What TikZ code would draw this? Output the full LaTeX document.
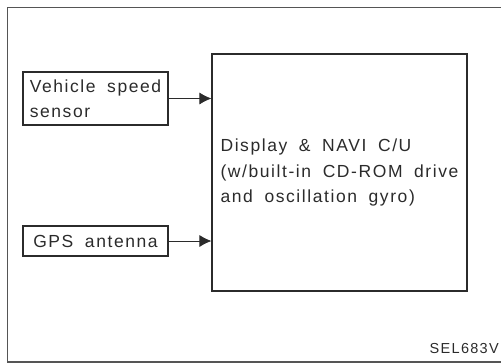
\documentclass[tikz,border=0pt]{standalone}
\usepackage{fontspec}
\usetikzlibrary{positioning, arrows.meta}
\newfontfamily\navFont{Liberation Sans}[LetterSpace=9, WordSpace=1.8]
\definecolor{navInk}{HTML}{2B2B2B}
\definecolor{navFrame}{HTML}{555555}
\tikzset{
    navBoxBase/.style={
        rectangle,
        draw=navInk,
        line width=1.1pt,
        inner sep=0pt,
        font=\navFont\fontsize{17.5}{25.5}\selectfont,
        text=navInk
    },
    navArrow/.style={-{Latex[length=12pt, width=12pt]}, line width=0.8pt, draw=navInk},
    navLabel/.style={font=\navFont\fontsize{14.5}{16}\selectfont, text=navInk, inner sep=0pt}
}

\begin{document}
\begin{tikzpicture}[x=1pt, y=-1pt]
    \useasboundingbox (0,0) rectangle (501,364);
    % outer frame (open on the right)
    \draw[navFrame, line width=1.6pt] (501,7.5) -- (7.5,7.5) -- (7.5,362) -- (501,362);
    % boxes
    \node[navBoxBase, minimum width=255pt, minimum height=237pt, align=left] (navi) at (339.5,172.5)
        {Display \& NAVI C/U\\(w/built-in CD-ROM drive\\and oscillation gyro)};
    \node[navBoxBase, minimum width=145pt, minimum height=53pt, align=left] (sensor) at (95.5,98.5)
        {Vehicle speed\\sensor};
    \node[navBoxBase, minimum width=145pt, minimum height=30pt, align=center] (gps) at (95.5,241)
        {GPS antenna};
    % signals
    \draw[navArrow] (sensor.east) -- (sensor.east -| navi.west);
    \draw[navArrow] (gps.east) -- (gps.east -| navi.west);
    % figure code
    \node[navLabel, anchor=south east] (code) at (499,354) {SEL683V};
\end{tikzpicture}
\end{document}
